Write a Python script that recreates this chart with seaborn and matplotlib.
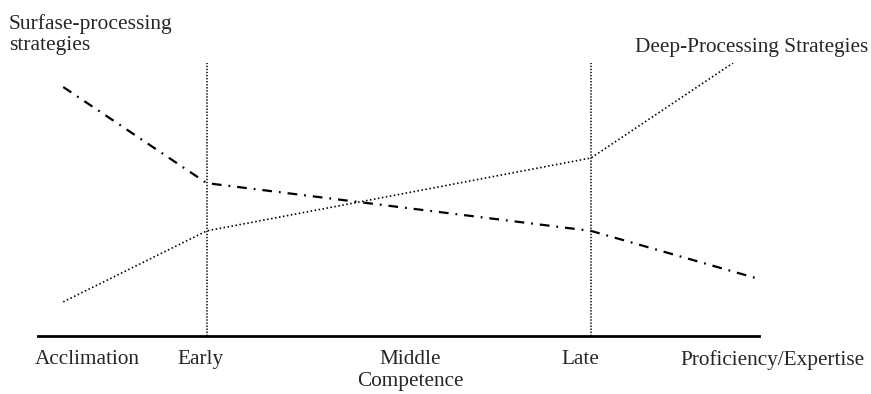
import pandas as pd
import seaborn as sns
import matplotlib.pyplot as plt

# stage positions along the development axis (0-100 scale)
surface_x = [3.5, 23.4, 76.7, 99.6]
surface_y = [91.2, 56.0, 38.5, 21.2]
deep_x = [3.5, 23.4, 76.7, 96.4]
deep_y = [12.5, 38.5, 65.2, 100.0]
stage_lines = [23.4, 76.7]
tick_pos = [6.8, 22.6, 51.6, 75.2, 101.9]
tick_labels = ['Acclimation', 'Early', 'Middle\nCompetence', 'Late', 'Proficiency/Expertise']

df = pd.concat([
    pd.DataFrame({'x': surface_x, 'y': surface_y, 'series': 'surface'}),
    pd.DataFrame({'x': deep_x, 'y': deep_y, 'series': 'deep'}),
])

sns.set_style('white')
plt.rcParams['font.family'] = ['Liberation Serif', 'DejaVu Serif']
plt.rcParams['lines.scale_dashes'] = False

fig = plt.figure(figsize=(8.71, 3.94), dpi=100)
# x runs 0..104 so the last label sits inside the view; the axis line stops at 100
ax = fig.add_axes([38 / 871, (394 - 336) / 394, 7.21 * 104 / 871, 273 / 394])

sns.lineplot(data=df[df.series == 'surface'], x='x', y='y', ax=ax, color='black',
             linewidth=1.6, linestyle=(0, (7, 5, 1.3, 5)), sort=False)
sns.lineplot(data=df[df.series == 'deep'], x='x', y='y', ax=ax, color='black',
             linewidth=1.2, linestyle=(0, (1.1, 1.8)), sort=False)
for xv in stage_lines:
    ax.axvline(xv, color='black', linewidth=1.1, linestyle=(0, (1, 1.2)))

for s in ['top', 'right', 'left']:
    ax.spines[s].set_visible(False)
ax.spines['bottom'].set_linewidth(2)
ax.spines['bottom'].set_color('black')
ax.spines['bottom'].set_bounds(0, 100)
ax.set_yticks([])
ax.set_xticks(tick_pos)
ax.set_xticklabels(tick_labels, fontsize=15.3, linespacing=1.2)
ax.tick_params(axis='x', length=0, pad=10)
ax.set_xlabel('')
ax.set_ylabel('')
ax.set_xlim(0, 104)
ax.set_ylim(0, 100)

fig.text(9 / 871, 1 - 14 / 394, 'Surfase-processing\nstrategies', fontsize=15.5,
         ha='left', va='top', linespacing=1.12)
fig.text(868 / 871, 1 - 38 / 394, 'Deep-Processing Strategies', fontsize=15.3,
         ha='right', va='top')

fig.savefig('out.png', dpi=100)
